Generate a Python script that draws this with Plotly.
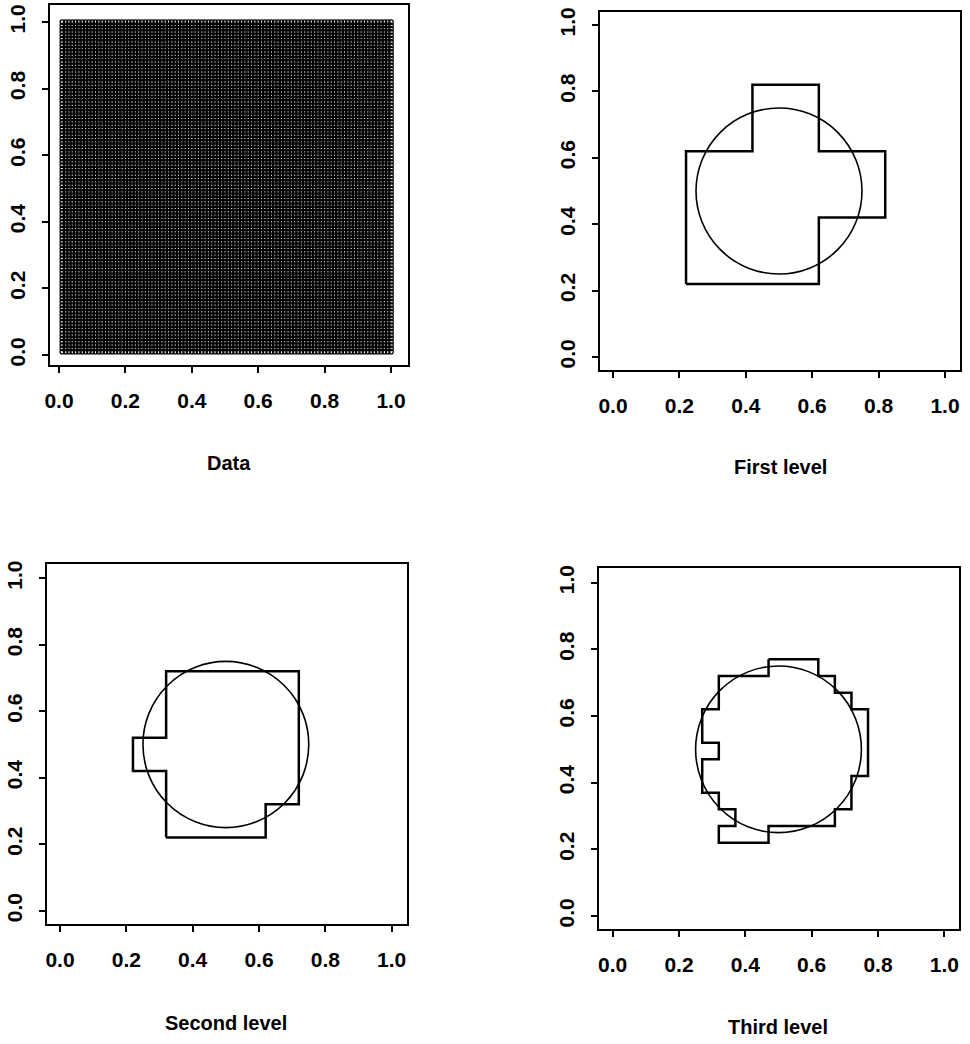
import plotly.graph_objects as go

# ---- data ----
grid_values = [
    0.01, 0.02, 0.03, 0.04, 0.05, 0.06, 0.07, 0.08, 0.09, 0.10,
    0.11, 0.12, 0.13, 0.14, 0.15, 0.16, 0.17, 0.18, 0.19, 0.20,
    0.21, 0.22, 0.23, 0.24, 0.25, 0.26, 0.27, 0.28, 0.29, 0.30,
    0.31, 0.32, 0.33, 0.34, 0.35, 0.36, 0.37, 0.38, 0.39, 0.40,
    0.41, 0.42, 0.43, 0.44, 0.45, 0.46, 0.47, 0.48, 0.49, 0.50,
    0.51, 0.52, 0.53, 0.54, 0.55, 0.56, 0.57, 0.58, 0.59, 0.60,
    0.61, 0.62, 0.63, 0.64, 0.65, 0.66, 0.67, 0.68, 0.69, 0.70,
    0.71, 0.72, 0.73, 0.74, 0.75, 0.76, 0.77, 0.78, 0.79, 0.80,
    0.81, 0.82, 0.83, 0.84, 0.85, 0.86, 0.87, 0.88, 0.89, 0.90,
    0.91, 0.92, 0.93, 0.94, 0.95, 0.96, 0.97, 0.98, 0.99, 1.00,
]

circle_center = (0.5, 0.5)
circle_radius = 0.25

first_x = [0.22, 0.62, 0.62, 0.82, 0.82, 0.62, 0.62, 0.42, 0.42, 0.22, 0.22]
first_y = [0.22, 0.22, 0.42, 0.42, 0.62, 0.62, 0.82, 0.82, 0.62, 0.62, 0.22]

second_x = [0.32, 0.62, 0.62, 0.72, 0.72, 0.32, 0.32, 0.22, 0.22, 0.32, 0.32]
second_y = [0.22, 0.22, 0.32, 0.32, 0.72, 0.72, 0.52, 0.52, 0.42, 0.42, 0.22]

third_x = [0.47, 0.62, 0.62, 0.67, 0.67, 0.72, 0.72, 0.77, 0.77, 0.72, 0.72,
           0.67, 0.67, 0.47, 0.47, 0.32, 0.32, 0.37, 0.37, 0.32, 0.32, 0.27,
           0.27, 0.32, 0.32, 0.27, 0.27, 0.32, 0.32, 0.47, 0.47]
third_y = [0.77, 0.77, 0.72, 0.72, 0.67, 0.67, 0.62, 0.62, 0.42, 0.42, 0.32,
           0.32, 0.27, 0.27, 0.22, 0.22, 0.27, 0.27, 0.32, 0.32, 0.37, 0.37,
           0.47, 0.47, 0.52, 0.52, 0.62, 0.62, 0.72, 0.72, 0.77]

panel_titles = ["Data", "First level", "Second level", "Third level"]
tick_vals = [0.0, 0.2, 0.4, 0.6, 0.8, 1.0]
tick_text = ["0.0", "0.2", "0.4", "0.6", "0.8", "1.0"]

# ---- figure layout constants (page pixels) ----
W, H = 970, 1044
FONT = "Liberation Sans"

# plot boxes (left, top, right, bottom)
boxes = [(50, 5, 408, 365), (600, 12, 960, 370), (47, 564, 407, 924), (599, 568, 959, 929)]
# pixel positions of tick 0 and tick 1 on x, and of tick 0 and tick 1 on y
tick_px = [(59, 391, 355, 22), (613, 945, 357, 25), (60, 391.7, 910.7, 578.3), (612.7, 944.3, 916, 582.7)]
title_pos = [(229, 463), (780, 467), (226, 1023), (778, 1027)]

fig = go.Figure()

# data panel points
pts_x = [gx for gy in grid_values for gx in grid_values]
pts_y = [gy for gy in grid_values for gx in grid_values]
fig.add_trace(go.Scatter(
    x=pts_x, y=pts_y, mode="markers", xaxis="x", yaxis="y",
    marker=dict(symbol="circle-open", size=4.5, color="black", line=dict(width=1.25, color="black")),
    hoverinfo="skip", showlegend=False,
))

polys = [(first_x, first_y), (second_x, second_y), (third_x, third_y)]
for i, (px, py) in enumerate(polys):
    n = i + 2
    fig.add_trace(go.Scatter(
        x=px, y=py, mode="lines", xaxis=f"x{n}", yaxis=f"y{n}",
        line=dict(color="black", width=2.5), hoverinfo="skip", showlegend=False,
    ))
    fig.add_shape(
        type="circle", xref=f"x{n}", yref=f"y{n}",
        x0=circle_center[0] - circle_radius, x1=circle_center[0] + circle_radius,
        y0=circle_center[1] - circle_radius, y1=circle_center[1] + circle_radius,
        line=dict(color="black", width=1.6),
    )

layout = dict(
    template="none",
    width=W, height=H, margin=dict(l=0, r=0, t=0, b=0, autoexpand=False),
    paper_bgcolor="white", plot_bgcolor="white", showlegend=False,
)
tickfont = dict(family=FONT, size=21, color="black", weight="bold")
for i, (l, t, r, b) in enumerate(boxes):
    X0, X1, Y0, Y1 = tick_px[i]
    xr = [(l - X0) / (X1 - X0), (r - X0) / (X1 - X0)]
    yr = [(Y0 - b) / (Y0 - Y1), (Y0 - t) / (Y0 - Y1)]
    sfx = "" if i == 0 else str(i + 1)
    common = dict(
        showline=True, mirror=True, linecolor="black", linewidth=2,
        ticks="outside", ticklen=6, tickwidth=2, tickcolor="black",
        tickvals=tick_vals, ticktext=tick_text, tickfont=tickfont,
        showgrid=False, zeroline=False, automargin=False, ticklabeloverflow="allow",
    )
    layout[f"xaxis{sfx}"] = dict(
        domain=[l / W, r / W], range=xr, anchor=f"y{sfx}",
        ticklabelstandoff=10, **common,
    )
    layout[f"yaxis{sfx}"] = dict(
        domain=[1 - b / H, 1 - t / H], range=yr, anchor=f"x{sfx}",
        tickangle=-90, ticklabelstandoff=9, **common,
    )

annotations = []
for (tx, ty), txt in zip(title_pos, panel_titles):
    annotations.append(dict(
        x=tx / W, y=1 - ty / H, xref="paper", yref="paper", text=txt,
        showarrow=False, xanchor="center", yanchor="middle",
        font=dict(family=FONT, size=20, color="black", weight="bold"),
    ))
layout["annotations"] = annotations

fig.update_layout(**layout)
fig.write_html(
    "out.html",
    config={"displayModeBar": False},
    post_script="document.body.style.margin='0';document.documentElement.style.overflow='hidden';",
)
